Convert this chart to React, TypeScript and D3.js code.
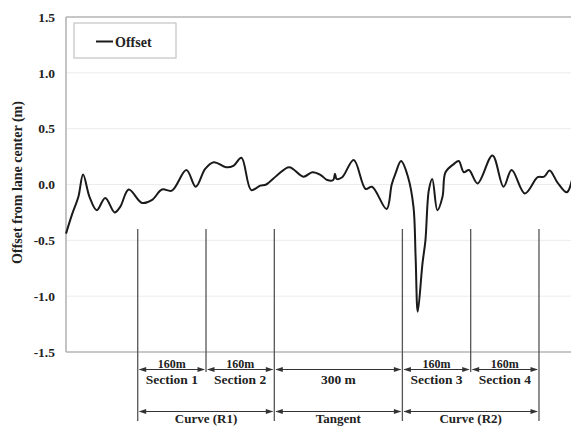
import React from "react";
import * as d3 from "d3";

// Lateral offset from lane centre along the route (distance in m, offset in m)
const distance = [0, 14, 29, 40, 55, 72, 92, 114, 127, 147, 178, 201, 225, 248, 282, 304, 326, 346, 375, 393, 411, 434, 455, 469, 494, 523, 556, 577, 596, 612, 626, 630, 634, 647, 674, 702, 717, 751, 763, 772, 785, 801, 814, 819, 824, 835, 842, 850, 858, 870, 882, 889, 909, 920, 932, 944, 964, 999, 1025, 1044, 1075, 1105, 1120, 1133, 1151, 1173, 1185];
const offset = [-0.44, -0.27, -0.11, 0.09, -0.11, -0.23, -0.12, -0.25, -0.2, -0.045, -0.165, -0.14, -0.045, -0.055, 0.13, -0.02, 0.14, 0.2, 0.155, 0.17, 0.24, -0.05, -0.01, 0.0, 0.08, 0.155, 0.07, 0.11, 0.087, 0.04, 0.04, 0.096, 0.05, 0.065, 0.22, -0.04, -0.02, -0.22, 0.0, 0.1, 0.21, 0.07, -0.2, -0.65, -1.14, -0.71, -0.5, -0.05, 0.05, -0.23, -0.11, 0.11, 0.185, 0.21, 0.11, 0.13, 0.01, 0.26, -0.02, 0.13, -0.08, 0.065, 0.07, 0.125, 0.02, -0.07, 0.035];

const yTicks = [1.5, 1.0, 0.5, 0.0, -0.5, -1.0, -1.5];
const gridValues = [1.0, 0.5, 0.0, -0.5, -1.0];

// Section boundaries (m) and the spans annotated under the plot
const boundaries = [168, 328, 488, 788, 948, 1108];
const shortBoundaries = [328, 948];
const sectionSpans = [
  { from: 168, to: 328, length: "160m", name: "Section 1" },
  { from: 328, to: 488, length: "160m", name: "Section 2" },
  { from: 488, to: 788, length: "", name: "300 m" },
  { from: 788, to: 948, length: "160m", name: "Section 3" },
  { from: 948, to: 1108, length: "160m", name: "Section 4" },
];
const segmentSpans = [
  { from: 168, to: 488, name: "Curve (R1)" },
  { from: 488, to: 788, name: "Tangent" },
  { from: 788, to: 1108, name: "Curve (R2)" },
];

const W = 571;
const H = 426;
const left = 66;
const right = 571;
const top = 17;
const bottom = 352;
const font = "'Liberation Serif', 'Times New Roman', serif";

function DoubleArrow({ x1, x2, y }: { x1: number; x2: number; y: number }) {
  const len = 7.5;
  const hw = 2.6;
  const c = "#333";
  return (
    <g>
      <line x1={x1 + 2} x2={x2 - 2} y1={y} y2={y} stroke={c} strokeWidth={1.2} />
      <polygon points={`${x1 + 1},${y} ${x1 + 1 + len},${y - hw} ${x1 + 1 + len},${y + hw}`} fill={c} />
      <polygon points={`${x2 - 1},${y} ${x2 - 1 - len},${y - hw} ${x2 - 1 - len},${y + hw}`} fill={c} />
    </g>
  );
}

export default function App() {
  const x = d3.scaleLinear().domain([0, 1183]).range([left, right]);
  const y = d3.scaleLinear().domain([-1.5, 1.5]).range([bottom, top]);

  const pts: [number, number][] = distance.map((d, i) => [d, offset[i]]);
  const line = d3
    .line<[number, number]>()
    .x((d) => x(d[0]))
    .y((d) => y(d[1]))
    .curve(d3.curveCatmullRom.alpha(0.5));

  const row1 = 369.5;
  const row2 = 411.5;

  return (
    <svg
      width={W}
      height={H}
      style={{ position: "absolute", left: 0, top: 0, background: "#fff" }}
      fontFamily={font}
      fontWeight="bold"
    >
      {/* grid */}
      {gridValues.map((v) => (
        <line key={v} x1={left} x2={right} y1={y(v)} y2={y(v)} stroke="#ececec" strokeWidth={1} />
      ))}
      {/* frame */}
      <line x1={left} x2={right} y1={top} y2={top} stroke="#b5b5b5" strokeWidth={1.4} />
      <line x1={left} x2={right} y1={bottom} y2={bottom} stroke="#b5b5b5" strokeWidth={1.4} />
      <line x1={left} x2={left} y1={top} y2={bottom} stroke="#b5b5b5" strokeWidth={1.6} />

      {/* y tick labels */}
      {yTicks.map((v) => (
        <text key={v} x={55} y={y(v)} dy="0.35em" textAnchor="end" fontSize={13.5} fill="#222">
          {v.toFixed(1)}
        </text>
      ))}
      <text
        transform={`translate(22,${(top + bottom) / 2 - 2}) rotate(-90)`}
        textAnchor="middle"
        fontSize={14}
        fill="#222"
      >
        Offset from lane center (m)
      </text>

      {/* section boundaries */}
      {boundaries.map((b) => (
        <line
          key={b}
          x1={x(b)}
          x2={x(b)}
          y1={229}
          y2={shortBoundaries.includes(b) ? 372 : 421}
          stroke="#555"
          strokeWidth={1.3}
        />
      ))}

      {/* offset trace */}
      <path d={line(pts) ?? ""} fill="none" stroke="#1a1a1a" strokeWidth={2} strokeLinejoin="round" />

      {/* legend */}
      <rect x={74} y={23} width={102} height={35} fill="#fff" stroke="#c4c4c4" strokeWidth={1.2} />
      <line x1={96} x2={113} y1={41.5} y2={41.5} stroke="#1a1a1a" strokeWidth={2} />
      <text x={115} y={46.5} fontSize={14} fill="#222">
        Offset
      </text>

      {/* section annotations */}
      {sectionSpans.map((s) => {
        const x1 = x(s.from);
        const x2 = x(s.to);
        const cx = (x1 + x2) / 2;
        return (
          <g key={s.name}>
            <DoubleArrow x1={x1} x2={x2} y={row1} />
            {s.length && (
              <text x={cx} y={367.5} textAnchor="middle" fontSize={12} fill="#222">
                {s.length}
              </text>
            )}
            <text x={cx} y={384} textAnchor="middle" fontSize={13.5} fill="#222">
              {s.name}
            </text>
          </g>
        );
      })}
      {segmentSpans.map((s) => {
        const x1 = x(s.from);
        const x2 = x(s.to);
        return (
          <g key={s.name}>
            <DoubleArrow x1={x1} x2={x2} y={row2} />
            <text x={(x1 + x2) / 2} y={423} textAnchor="middle" fontSize={13} fill="#222">
              {s.name}
            </text>
          </g>
        );
      })}
    </svg>
  );
}
